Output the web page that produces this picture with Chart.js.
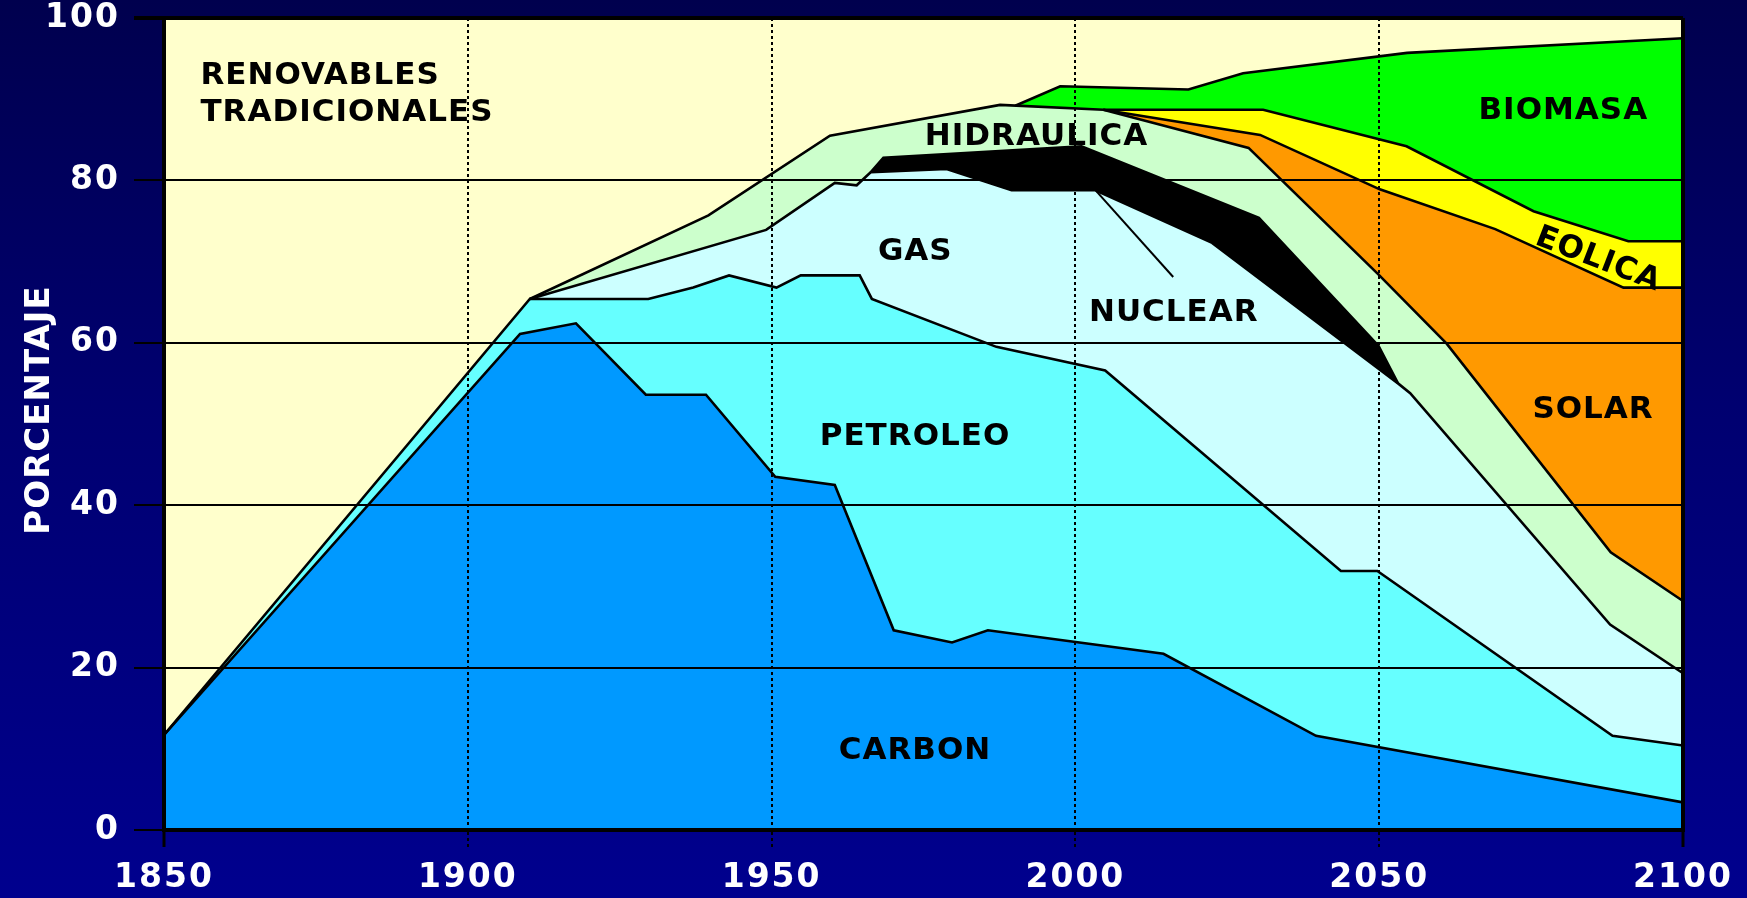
<!DOCTYPE html>
<html lang="es">
<head>
<meta charset="utf-8">
<title>Fuentes de energía primaria 1850–2100</title>
<script src="https://cdn.jsdelivr.net/npm/chart.js@4.4.1/dist/chart.umd.min.js"></script>
<style>
  html, body {
    margin: 0;
    padding: 0;
    width: 1747px;
    height: 898px;
    overflow: hidden;
    background: linear-gradient(to bottom, #00004e 0%, #000070 45%, #00008e 100%);
  }
  canvas { display: block; }
</style>
</head>
<body>
<canvas id="mix" width="1747" height="898"></canvas>
<script>
// Axis ticks
const tickYears = [1850, 1900, 1950, 2000, 2050, 2100];
const tickPercents = [0, 20, 40, 60, 80, 100];

// Upper edge of each band (cumulative share, %), as [year, %]
const carbonTop = [
  [1850, 11.7], [1908.6, 61.1], [1917.8, 62.4], [1929.3, 53.6], [1939.2, 53.6],
  [1950.6, 43.5], [1960.4, 42.5], [1970.1, 24.6], [1979.7, 23.1], [1985.6, 24.6],
  [2014.5, 21.7], [2039.6, 11.6], [2100, 3.4]
];
const petroleoTop = [
  [1850, 11.7], [1910.2, 65.4], [1929.7, 65.4], [1937.1, 66.8], [1943.0, 68.3],
  [1950.8, 66.8], [1954.8, 68.3], [1964.5, 68.3], [1966.5, 65.4], [1987.0, 59.5],
  [2004.9, 56.6], [2043.7, 31.9], [2049.7, 31.9], [2088.4, 11.6], [2100, 10.4]
];
const gasTop = [
  [1910.2, 65.4], [1949.1, 73.9], [1960.4, 79.7], [1964.0, 79.4], [1966.3, 81.0],
  [1978.8, 81.4], [1989.5, 78.8], [2003.2, 78.8], [2022.5, 72.3], [2053.1, 55.0],
  [2055.1, 53.8], [2088.0, 25.3], [2100, 19.3]
];
const nuclearTop = [
  [1966.3, 81.0], [1968.4, 82.8], [2001.0, 84.2], [2030.2, 75.4], [2049.9, 59.6],
  [2053.1, 55.0]
];
const hidraulicaTop = [
  [1910.2, 65.4], [1939.6, 75.7], [1959.6, 85.5], [1987.6, 89.3], [2004.6, 88.7],
  [2028.5, 84.0], [2049.9, 68.4], [2061.1, 59.9], [2088.1, 34.2], [2100, 28.2]
];
const solarTop = [
  [2004.6, 88.7], [2030.4, 85.6], [2050.1, 78.9], [2069.1, 74.0], [2090.2, 66.8],
  [2100, 66.8]
];
const eolicaTop = [
  [2004.6, 88.7], [2030.9, 88.7], [2054.5, 84.2], [2075.4, 76.2], [2091.0, 72.5],
  [2100, 72.5]
];
const biomasaTop = [
  [1990.1, 89.2], [1997.5, 91.6], [2018.6, 91.2], [2027.6, 93.2], [2054.6, 95.7],
  [2100, 97.5]
];
// Leader line from the nuclear band to its label
const nuclearLeader = [[2003.4, 78.7], [2016.1, 68.1]];

// Band names placed inside the plot, in data units
const bandLabels = [
  { text: 'RENOVABLES',    x: 1856.0, y: 93.3, align: 'left' },
  { text: 'TRADICIONALES', x: 1856.0, y: 88.7, align: 'left' },
  { text: 'HIDRAULICA',    x: 1993.6, y: 85.7 },
  { text: 'GAS',           x: 1973.65, y: 71.6 },
  { text: 'NUCLEAR',       x: 2016.2, y: 64.1 },
  { text: 'PETROLEO',      x: 1973.6, y: 48.8 },
  { text: 'CARBON',        x: 1973.6, y: 10.1 },
  { text: 'BIOMASA',       x: 2080.3, y: 88.9 },
  { text: 'SOLAR',         x: 2085.2, y: 52.1 },
  { text: 'EOLICA',        x: 2086.2, y: 70.6, angle: 21 }
];

const FONT = '"DejaVu Sans", Verdana, sans-serif';
const toPoints = arr => arr.map(([x, y]) => ({ x, y }));

function band(label, top, color) {
  return {
    label,
    data: toPoints(top),
    backgroundColor: color,
    borderColor: '#000',
    borderWidth: 2.6,
    fill: 'origin',
    pointRadius: 0,
    tension: 0
  };
}

// Cream plot background; wider letter spacing for the axis numbers
const plotBackground = {
  id: 'plotBackground',
  beforeDraw(chart) {
    const { ctx, chartArea: a } = chart;
    ctx.save();
    ctx.fillStyle = '#ffffcc';
    ctx.fillRect(a.left, a.top, a.right - a.left, a.bottom - a.top);
    ctx.restore();
    if ('letterSpacing' in ctx) ctx.letterSpacing = '2px';
  }
};

// Band names and the vertical axis title
const bandText = {
  id: 'bandText',
  afterDatasetsDraw(chart) {
    const { ctx, scales: { x, y } } = chart;
    ctx.save();
    ctx.fillStyle = '#000';
    ctx.font = 'bold 31px ' + FONT;
    if ('letterSpacing' in ctx) ctx.letterSpacing = '1px';
    ctx.textBaseline = 'alphabetic';
    const half = 31 * 0.729 / 2;
    bandLabels.forEach(l => {
      const px = x.getPixelForValue(l.x);
      const py = y.getPixelForValue(l.y);
      ctx.save();
      ctx.translate(px, py);
      if (l.angle) ctx.rotate(l.angle * Math.PI / 180);
      ctx.textAlign = l.align || 'center';
      ctx.fillText(l.text, 0, half);
      ctx.restore();
    });
    ctx.restore();
  },
  afterDraw(chart) {
    const { ctx } = chart;
    ctx.save();
    ctx.fillStyle = '#ffffff';
    ctx.font = 'bold 34px ' + FONT;
    if ('letterSpacing' in ctx) ctx.letterSpacing = '1px';
    ctx.textAlign = 'center';
    ctx.textBaseline = 'alphabetic';
    ctx.translate(37, 410);
    ctx.rotate(-Math.PI / 2);
    ctx.fillText('PORCENTAJE', 0, 34 * 0.729 / 2);
    ctx.restore();
  }
};

const isEdgeYear = v => v === 1850 || v === 2100;

new Chart(document.getElementById('mix'), {
  type: 'line',
  data: {
    datasets: [
      {
        label: 'nuclear-leader',
        data: toPoints(nuclearLeader),
        borderColor: '#000',
        borderWidth: 2,
        fill: false,
        pointRadius: 0
      },
      band('CARBON', carbonTop, '#0099ff'),
      band('PETROLEO', petroleoTop, '#66ffff'),
      band('GAS', gasTop, '#ccffff'),
      band('NUCLEAR', nuclearTop, '#000000'),
      band('HIDRAULICA', hidraulicaTop, '#ccffcc'),
      band('SOLAR', solarTop, '#ff9900'),
      band('EOLICA', eolicaTop, '#ffff00'),
      band('BIOMASA', biomasaTop, '#00ff00')
    ]
  },
  options: {
    responsive: false,
    animation: false,
    devicePixelRatio: 1,
    layout: { padding: { left: 0, right: 64, top: 18, bottom: 0 } },
    plugins: {
      legend: { display: false },
      tooltip: { enabled: false },
      filler: { drawTime: 'beforeDatasetsDraw' }
    },
    scales: {
      x: {
        type: 'linear',
        min: 1850,
        max: 2100,
        afterBuildTicks: s => { s.ticks = tickYears.map(v => ({ value: v })); },
        afterFit: s => {
          s.height = 68;
          s.paddingLeft = 0;
          s.paddingRight = 0;
        },
        grid: {
          z: 1,
          color: '#000',
          lineWidth: c => (c.tick && isEdgeYear(c.tick.value)) ? 4 : 2,
          tickLength: 17,
          tickColor: '#000',
          tickWidth: c => (c.tick && isEdgeYear(c.tick.value)) ? 3 : 2,
          tickBorderDash: c => (c.tick && !isEdgeYear(c.tick.value)) ? [3, 3] : []
        },
        border: {
          z: 1,
          color: '#000',
          width: 4,
          dash: c => (c.tick && !isEdgeYear(c.tick.value)) ? [3, 3] : []
        },
        ticks: {
          color: '#ffffff',
          font: { family: FONT, size: 33, weight: 'bold' },
          padding: 12,
          maxRotation: 0,
          autoSkip: false,
          callback: v => String(v)
        }
      },
      y: {
        min: 0,
        max: 100,
        afterBuildTicks: s => { s.ticks = tickPercents.map(v => ({ value: v })); },
        afterFit: s => {
          s.width = 164;
          s.paddingTop = 0;
          s.paddingBottom = 0;
        },
        grid: {
          z: 1,
          color: '#000',
          lineWidth: c => (c.tick && c.tick.value === 100) ? 4 : 2,
          tickLength: 30,
          tickColor: '#000'
        },
        border: { z: 1, color: '#000', width: 4 },
        ticks: {
          color: '#ffffff',
          font: { family: FONT, size: 33, weight: 'bold' },
          padding: 14,
          callback: v => String(v)
        }
      }
    }
  },
  plugins: [plotBackground, bandText]
});
</script>
</body>
</html>
